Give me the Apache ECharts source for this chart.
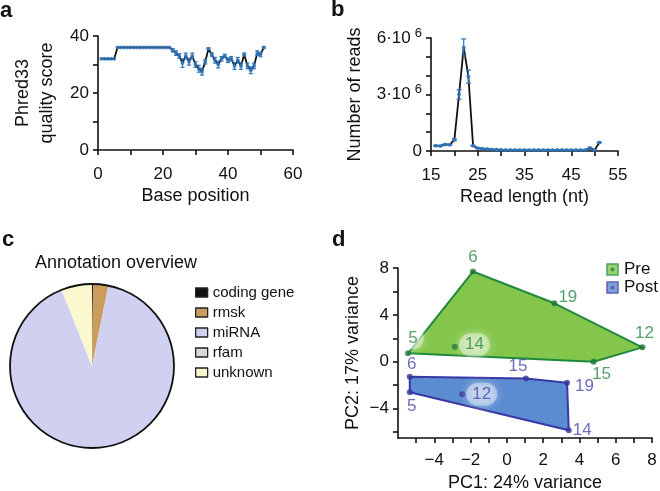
<!DOCTYPE html>
<html><head><meta charset="utf-8">
<script src="https://cdn.jsdelivr.net/npm/echarts@6/dist/echarts.min.js"></script>
<style>html,body{margin:0;padding:0;background:#fff}#c{width:660px;height:491px}</style>
</head><body><div id="c"></div>
<script>
// ---------- Panel a: per-base quality ----------
const basePos = [1,2,3,4,5,6,7,8,9,10,11,12,13,14,15,16,17,18,19,20,21,22,23,24,25,26,27,28,29,30,31,32,33,34,35,36,37,38,39,40,41,42,43,44,45,46,47,48,49,50,51];
const qualMean = [32,32,32,32,32,36,36,36,36,36,36,36,36,36,36,36,36,36,36,36,36,36,35,34,33,30.5,33,31,33,30,28.5,27.5,31,35.5,33.5,31.5,30,32,33,31.5,32,29.5,31.5,29.5,33.5,29.5,28,29.5,34,33.5,36];
const qualErr  = [0,0,0,0,0,0,0,0,0,0,0,0,0,0,0,0,0,0,0,0,0,0,0.6,0.8,0.8,1.5,1,1.2,1,1,1.2,1.2,0.8,0.3,0.6,1,1.2,0.8,0.6,0.8,0.8,1.2,1,1.2,0.5,1,1.2,1,0.8,0.8,0.3];
// ---------- Panel b: read length distribution (millions of reads) ----------
const readLen = [16,17,18,19,20,21,22,23,24,25,26,27,28,29,30,31,32,33,34,35,36,37,38,39,40,41,42,43,44,45,46,47,48,49,50,51];
const readsM  = [0.28,0.27,0.35,0.33,0.6,3.0,5.5,3.95,0.28,0.15,0.12,0.1,0.08,0.07,0.06,0.05,0.05,0.05,0.05,0.05,0.05,0.05,0.05,0.05,0.05,0.05,0.05,0.05,0.05,0.05,0.05,0.05,0.05,0.15,0.05,0.45];
const readsErrM = [0.02,0.02,0.02,0.02,0.05,0.25,0.45,0.35,0.02,0.02,0.02,0.02,0.02,0.02,0.02,0.02,0.02,0.02,0.02,0.02,0.02,0.02,0.02,0.02,0.02,0.02,0.02,0.02,0.02,0.02,0.02,0.02,0.02,0.05,0.02,0.02];
// ---------- Panel c: annotation overview (%) ----------
const annoNames = ['coding gene','rmsk','miRNA','rfam','unknown'];
const annoShare = [0.2, 3.0, 90.7, 0.1, 6.0];
// ---------- Panel d: PCA ----------
const preIds  = ['5','6','19','12','15','14'];
const prePC1  = [-5.45,-1.87,2.62,7.47,4.78,-2.86];
const prePC2  = [0.72,7.7,4.99,1.23,0.0,1.28];
const preHull = [0,1,2,3,4];
const postIds = ['6','15','19','14','5','12'];
const postPC1 = [-5.35,1.05,3.32,3.41,-5.35,-2.46];
const postPC2 = [-1.28,-1.42,-1.79,-5.84,-2.6,-2.76];
const postHull = [0,1,2,3,4];

// ---------- styles ----------
const FONT = '"Liberation Sans", Arial, Helvetica, sans-serif';
const BLUE = '#2f74b8';
const annoColors = ['#111111','#cc9c5c','#d0d1f1','#d9d9d9','#fbf8cf'];
const preLabelPos  = [['top',[5,2]],['top',[0,0]],['right',[-2,-6]],['top',[2,0]],['bottom',[8,-2]],['right',[-2,-2]]];
const postLabelPos = [['top',[2,2]],['top',[-8,2]],['right',[2,4]],['right',[-2,0]],['bottom',[2,0]],['right',[-2,0]]];
const preHalo  = [true,false,false,false,false,true];
const postHalo = [false,false,false,false,false,true];
const GREEN_FILL='#84c64b', GREEN_LINE='#1f8a3c', GREEN_TXT='#2a8a45', GREEN_PT='#1c7434';
const BLUE_FILL='#5b8bd0', BLUE_LINE='#3838a6', BLUE_TXT='#4747ad', BLUE_PT='#35359b';

function axisCommon(){
  return {
    axisLine:{show:true,onZero:false,lineStyle:{color:'#111',width:1.6}},
    axisTick:{show:true,inside:false,length:5,lineStyle:{color:'#111',width:1.6}},
    splitLine:{show:false},
    axisLabel:{color:'#111',fontSize:17,fontFamily:FONT},
    nameTextStyle:{color:'#111',fontSize:18,fontFamily:FONT},
    nameLocation:'middle'
  };
}
function errRender(color, cap){
  return function(params, api){
    const x=api.value(0), y=api.value(1), e=api.value(2);
    if(!e) return null;
    const t=api.coord([x,y+e]), b=api.coord([x,y-e]);
    const st={stroke:color,lineWidth:1.2};
    return {type:'group',children:[
      {type:'line',shape:{x1:t[0],y1:t[1],x2:b[0],y2:b[1]},style:st},
      {type:'line',shape:{x1:t[0]-cap,y1:t[1],x2:t[0]+cap,y2:t[1]},style:st},
      {type:'line',shape:{x1:b[0]-cap,y1:b[1],x2:b[0]+cap,y2:b[1]},style:st}
    ]};
  };
}
function hullRender(xs, ys, hull, fill, stroke){
  return function(params, api){
    const pts = hull.map(i => api.coord([xs[i], ys[i]]));
    return {type:'polygon',shape:{points:pts},style:{fill:fill,stroke:stroke,lineWidth:2,lineJoin:'round'}};
  };
}
function svgIcon(fill, stroke, dot){
  const s = "<svg xmlns='http://www.w3.org/2000/svg' width='26' height='26'><rect x='2' y='2' width='22' height='22' fill='"+fill+"' stroke='"+stroke+"' stroke-width='3'/><circle cx='13' cy='13' r='4' fill='"+dot+"'/></svg>";
  return 'image://data:image/svg+xml;charset=utf-8,' + encodeURIComponent(s);
}
function minusFmt(v){ return v<0 ? '\u2212'+(-v) : ''+v; }
function pcaPoints(xs, ys, ids, pos, halo, txtColor){
  return xs.map((x,i)=>{
    const lab = {show:true,formatter:ids[i],position:pos[i][0],offset:pos[i][1],distance:3,color:txtColor,fontSize:17,fontFamily:FONT};
    if(halo[i]){ Object.assign(lab,{backgroundColor:'rgba(255,255,255,0.5)',borderRadius:12,padding:[3,6],shadowColor:'rgba(255,255,255,1)',shadowBlur:9}); }
    return {value:[x, ys[i]], label:lab};
  });
}

const chart = echarts.init(document.getElementById('c'), null, {renderer:'canvas'});
const xa = Object.assign(axisCommon(), {gridIndex:0,type:'value',min:0,max:60,interval:10,name:'Base position',nameGap:37});
xa.axisLabel = Object.assign({}, xa.axisLabel, {margin:16, formatter:v=> v%20===0 ? ''+v : ''});
const ya = Object.assign(axisCommon(), {gridIndex:0,type:'value',min:0,max:40,interval:10,name:'Phred33\nquality score',nameGap:39});
ya.axisLabel = Object.assign({}, ya.axisLabel, {margin:9, formatter:v=> v%20===0 ? ''+v : ''});
ya.nameTextStyle = Object.assign({}, ya.nameTextStyle, {lineHeight:24});

const xb = Object.assign(axisCommon(), {gridIndex:1,type:'value',min:15,max:55,interval:5,name:'Read length (nt)',nameGap:37});
xb.axisLabel = Object.assign({}, xb.axisLabel, {margin:16, formatter:v=> (v-15)%10===0 ? ''+v : ''});
const yb = Object.assign(axisCommon(), {gridIndex:1,type:'value',min:0,max:6,interval:1,name:'Number of reads',nameGap:67});
yb.axisLabel = Object.assign({}, yb.axisLabel, {margin:9, formatter:v=> v===0 ? '0' : (v%3===0 ? '{m|'+v+'\u00b710}{s|6}' : ''),
  rich:{m:{fontSize:17,fontFamily:FONT,color:'#111'}, s:{fontSize:13,fontFamily:FONT,color:'#111',verticalAlign:'top',padding:[0,0,10,4]}}});

const xd = Object.assign(axisCommon(), {gridIndex:2,type:'value',min:-6,max:8,name:'PC1: 24% variance',nameGap:36});
xd.axisTick = Object.assign({}, xd.axisTick, {customValues:[-5,-4,-3,-2,-1,0,1,2,3,4,5,6,7,8]});
xd.axisLabel = Object.assign({}, xd.axisLabel, {margin:14, customValues:[-4,-2,0,2,4,6,8], formatter:minusFmt});
const yd = Object.assign(axisCommon(), {gridIndex:2,type:'value',min:-6.5,max:8,name:'PC2: 17% variance',nameGap:36});
yd.axisTick = Object.assign({}, yd.axisTick, {customValues:[-6,-4,-2,0,2,4,6,8]});
yd.axisLabel = Object.assign({}, yd.axisLabel, {margin:9, customValues:[-4,0,4,8], formatter:minusFmt});

const option = {
  backgroundColor:'#fff',
  animation:false,
  textStyle:{fontFamily:FONT},
  title:[
    {text:'a',left:0,top:0,padding:0,textStyle:{fontSize:22,fontWeight:'bold',color:'#111',fontFamily:FONT}},
    {text:'b',left:331,top:-1,padding:0,textStyle:{fontSize:22,fontWeight:'bold',color:'#111',fontFamily:FONT}},
    {text:'c',left:2,top:229,padding:0,textStyle:{fontSize:22,fontWeight:'bold',color:'#111',fontFamily:FONT}},
    {text:'d',left:332,top:229,padding:0,textStyle:{fontSize:22,fontWeight:'bold',color:'#111',fontFamily:FONT}},
    {text:'Annotation overview',left:35,top:254,padding:0,textStyle:{fontSize:18,fontWeight:'normal',color:'#111',fontFamily:FONT}}
  ],
  grid:[
    {left:98,top:36,width:195,height:114,outerBoundsMode:'none',containLabel:false},
    {left:431,top:38,width:187,height:113,outerBoundsMode:'none',containLabel:false},
    {left:398,top:268,width:254,height:170,outerBoundsMode:'none',containLabel:false}
  ],
  xAxis:[xa, xb, xd],
  yAxis:[ya, yb, yd],
  legend:[
    {data:annoNames, orient:'vertical', left:190, top:280, itemWidth:12, itemHeight:9, itemGap:5, icon:'rect',
     itemStyle:{borderColor:'#222',borderWidth:1.3}, textStyle:{fontSize:15,color:'#111',fontFamily:FONT}, selectedMode:false},
    {data:[{name:'Pre',icon:svgIcon(GREEN_FILL,GREEN_LINE,GREEN_PT)},{name:'Post',icon:svgIcon(BLUE_FILL,BLUE_LINE,BLUE_PT)}],
     orient:'vertical', left:601, top:256, itemWidth:13, itemHeight:13, itemGap:1, padding:[5,0,5,5],
     textStyle:{fontSize:17,color:'#111',fontFamily:FONT}, selectedMode:false}
  ],
  series:[
    // panel a
    {type:'line',name:'qual',xAxisIndex:0,yAxisIndex:0,data:basePos.map((x,i)=>[x,qualMean[i]]),showSymbol:false,
     lineStyle:{color:'#111',width:1.8},z:2,silent:true},
    {type:'custom',name:'qualErr',xAxisIndex:0,yAxisIndex:0,data:basePos.map((x,i)=>[x,qualMean[i],qualErr[i]]),
     renderItem:errRender(BLUE,2),z:3,silent:true},
    {type:'scatter',name:'qualPts',xAxisIndex:0,yAxisIndex:0,data:basePos.map((x,i)=>[x,qualMean[i]]),symbolSize:4,
     itemStyle:{color:BLUE},z:4,silent:true},
    // panel b
    {type:'line',name:'reads',xAxisIndex:1,yAxisIndex:1,data:readLen.map((x,i)=>[x,readsM[i]]),showSymbol:false,
     lineStyle:{color:'#111',width:1.8},z:2,silent:true},
    {type:'custom',name:'readsErr',xAxisIndex:1,yAxisIndex:1,data:readLen.map((x,i)=>[x,readsM[i],readsErrM[i]]),
     renderItem:errRender(BLUE,2.5),z:3,silent:true},
    {type:'scatter',name:'readsPts',xAxisIndex:1,yAxisIndex:1,data:readLen.map((x,i)=>[x,readsM[i]]),symbolSize:4,
     itemStyle:{color:BLUE},z:4,silent:true},
    // panel c
    {type:'pie',name:'anno',center:[92,366],radius:82,startAngle:90,clockwise:true,label:{show:false},labelLine:{show:false},
     itemStyle:{borderWidth:0},emphasis:{disabled:true},silent:true,
     data:annoNames.map((n,i)=>({name:n,value:annoShare[i],itemStyle:{color:annoColors[i]}}))},
    {type:'pie',name:'outline',center:[92,366],radius:82,label:{show:false},labelLine:{show:false},silent:true,emphasis:{disabled:true},
     data:[{name:'__outline',value:1,itemStyle:{color:'rgba(0,0,0,0)',borderColor:'#111',borderWidth:1.8}}],z:5},
    // panel d
    {type:'custom',name:'PreHull',xAxisIndex:2,yAxisIndex:2,data:[[0,0]],renderItem:hullRender(prePC1,prePC2,preHull,GREEN_FILL,GREEN_LINE),z:1,silent:true},
    {type:'custom',name:'PostHull',xAxisIndex:2,yAxisIndex:2,data:[[0,0]],renderItem:hullRender(postPC1,postPC2,postHull,BLUE_FILL,BLUE_LINE),z:1,silent:true},
    {type:'scatter',name:'Pre',xAxisIndex:2,yAxisIndex:2,symbolSize:6,itemStyle:{color:GREEN_PT},z:3,silent:true,
     data:pcaPoints(prePC1,prePC2,preIds,preLabelPos,preHalo,GREEN_TXT)},
    {type:'scatter',name:'Post',xAxisIndex:2,yAxisIndex:2,symbolSize:6,itemStyle:{color:BLUE_PT},z:3,silent:true,
     data:pcaPoints(postPC1,postPC2,postIds,postLabelPos,postHalo,BLUE_TXT)}
  ]
};
chart.setOption(option);
</script></body></html>
